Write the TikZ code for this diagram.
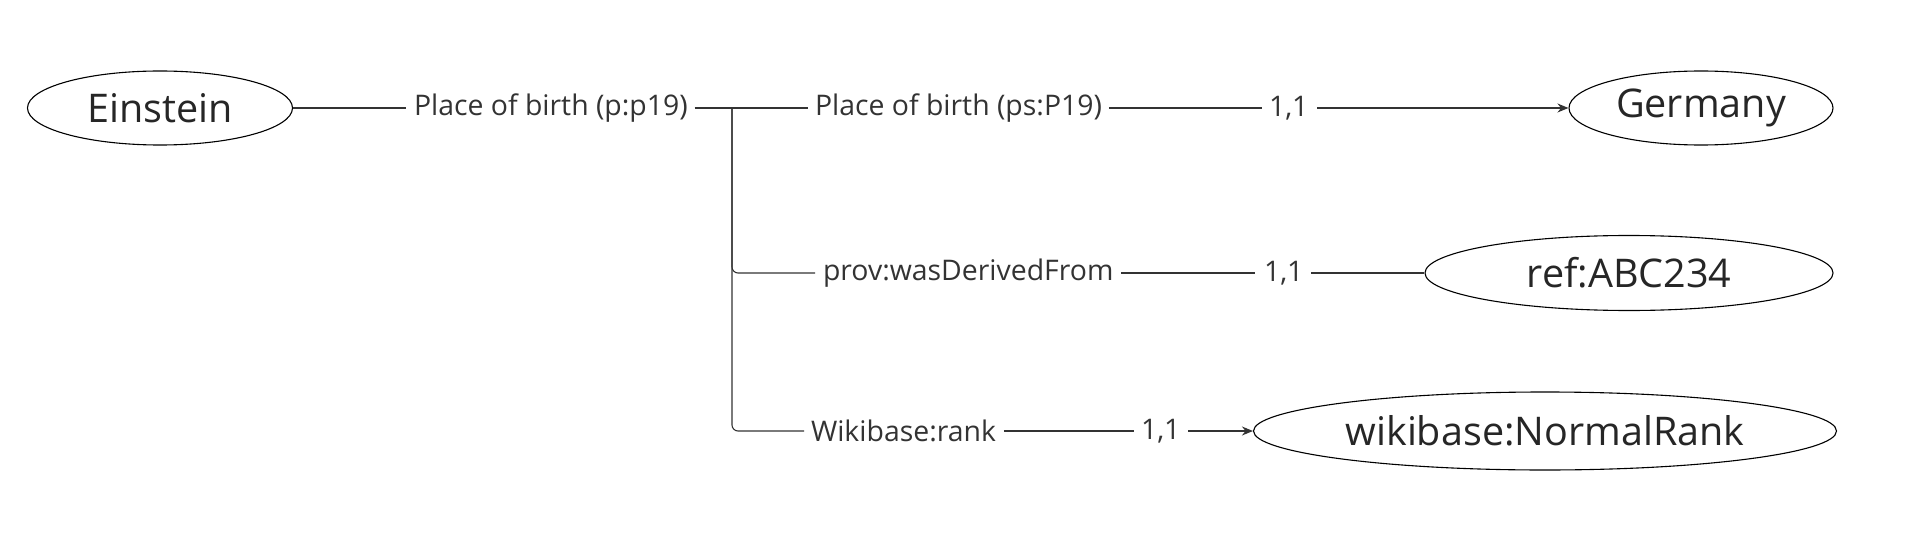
\documentclass[tikz,border=0pt]{standalone}
\usepackage{fontspec}
\setmainfont{Open Sans}
\usetikzlibrary{shapes.geometric,arrows.meta}
\definecolor{ink}{HTML}{333333}
\tikzset{
  ent/.style={ellipse,draw=black,line width=1.1pt,inner sep=0pt,font=\fontsize{39.5}{44}\selectfont,text=black!85},
  lbl/.style={inner sep=0pt,outer sep=0pt,font=\fontsize{28.4}{31}\selectfont,text=ink},
  conn/.style={draw=ink,line width=1.1pt},
  tip/.style={-{Stealth[length=11pt,width=9pt]}}
}
\begin{document}
\begin{tikzpicture}[x=1pt,y=-1pt]
\useasboundingbox (0,0) rectangle (1910,540);
\node[ent,minimum width=265,minimum height=74] (ein) at (160,108) {Einstein};
\node[ent,minimum width=264,minimum height=74] (ger) at (1701,108) {Germany};
\node[ent,minimum width=408,minimum height=75] (ref) at (1629,273) {ref:ABC234};
\node[ent,minimum width=583,minimum height=78] (rank) at (1545,431) {wikibase:NormalRank};

\node[lbl,anchor=west] (p0) at (414,108) {Place of birth (p:p19)};
\node[lbl,anchor=west] (pa) at (815,108) {Place of birth (ps:P19)};
\node[lbl,anchor=west] (ca) at (1269,108) {1,1};
\node[lbl,anchor=west] (pb) at (823,273) {prov:wasDerivedFrom};
\node[lbl,anchor=west] (cb) at (1264,273) {1,1};
\node[lbl,anchor=west] (pc) at (811,431) {Wikibase:rank};
\node[lbl,anchor=west] (cc) at (1141,431) {1,1};

\coordinate (j1) at (732,108);
\coordinate (j2) at (732,273);
\coordinate (j3) at (732,431);

\draw[conn] (ein.east) -- ([xshift=-8]p0.west);
\draw[conn] ([xshift=7]p0.east) -- (j1);
\draw[conn,rounded corners=6] (j1) -- ([xshift=-7]pa.west);
\draw[conn,rounded corners=6] (j1) -- (j3) -- ([xshift=-7]pc.west);
\draw[conn,rounded corners=6] (j1) |- ([xshift=-8]pb.west);

\draw[conn] ([xshift=7]pa.east) -- ([xshift=-7]ca.west);
\draw[conn,tip] ([xshift=9]ca.east) -- (ger.west);
\draw[conn] ([xshift=8]pb.east) -- ([xshift=-9]cb.west);
\draw[conn] ([xshift=8]cb.east) -- (ref.west);
\draw[conn] ([xshift=8]pc.east) -- ([xshift=-7]cc.west);
\draw[conn,tip] ([xshift=8]cc.east) -- (rank.west);
\end{tikzpicture}
\end{document}
